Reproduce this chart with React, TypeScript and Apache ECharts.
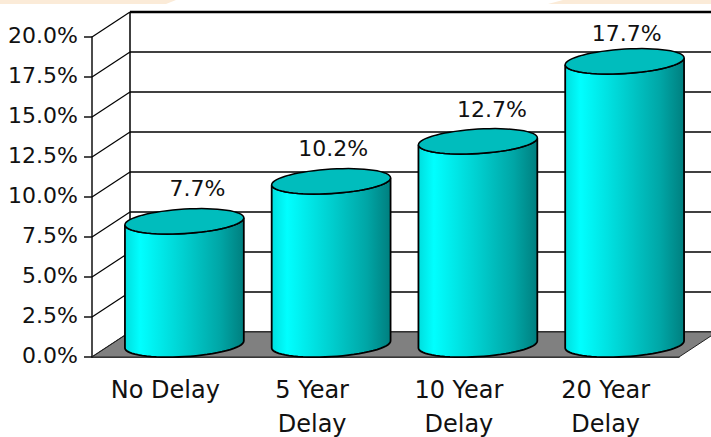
import React, { useEffect, useRef } from "react";
import * as echarts from "echarts";

const categories = ["No Delay", "5 Year\nDelay", "10 Year\nDelay", "20 Year\nDelay"];
const percentages = [7.7, 10.2, 12.7, 17.7];
const percentageLabels = ["7.7%", "10.2%", "12.7%", "17.7%"];
const gridTicks = [0, 2.5, 5, 7.5, 10, 12.5, 15, 17.5, 20];

// Projection of the 3D box: how far the back wall sits from the front plane.
const DEPTH_X = 38;
const DEPTH_Y = 25;
const FONT_FAMILY = '"DejaVu Sans"';
const FONT_SIZE = 22;
// Hand placement of the value captions relative to each cylinder's centre and rim.
const captionShiftX = [13, 2, 14, 2];
const captionLift = [33, 33, 32, 28];

const ellipsePoint = (cx: number, cy: number, a: number, t: number) => [
  cx + a * Math.cos(t),
  cy - 3.5 * Math.cos(t) + 12.2 * Math.sin(t),
];

// Half of the tilted rim; from the left corner round the front to the right corner.
const frontArc = (cx: number, cy: number, a: number) => {
  const pts: number[][] = [];
  for (let i = 0; i <= 32; i++) pts.push(ellipsePoint(cx, cy, a, Math.PI - (i / 32) * Math.PI));
  return pts;
};

const fullRim = (cx: number, cy: number, a: number) => {
  const pts: number[][] = [];
  for (let i = 0; i < 64; i++) pts.push(ellipsePoint(cx, cy, a, (i / 64) * 2 * Math.PI));
  return pts;
};

const renderWalls = (params: any, api: any) => {
  const rect = params.coordSys;
  const [, y] = api.coord([0, api.value(1)]);
  const isTop = api.value(1) === gridTicks[gridTicks.length - 1];
  const line = { stroke: "#000", lineWidth: isTop ? 2.5 : 1.5 };
  const children: any[] = [
    {
      type: "line",
      shape: { x1: rect.x, y1: y, x2: rect.x + DEPTH_X, y2: y - DEPTH_Y },
      style: { stroke: "#000", lineWidth: 1.2 },
    },
    {
      type: "line",
      shape: {
        x1: rect.x + DEPTH_X,
        y1: y - DEPTH_Y,
        x2: rect.x + rect.width + DEPTH_X,
        y2: y - DEPTH_Y,
      },
      style: line,
    },
  ];
  if (isTop) {
    children.push({
      type: "line",
      shape: {
        x1: rect.x + DEPTH_X,
        y1: y - DEPTH_Y,
        x2: rect.x + DEPTH_X,
        y2: rect.y + rect.height - DEPTH_Y,
      },
      style: { stroke: "#000", lineWidth: 1.5 },
    });
  }
  return { type: "group", children };
};

const renderFloor = (params: any, api: any) => {
  const rect = params.coordSys;
  const y = api.coord([0, api.value(1)])[1];
  return {
    type: "polygon",
    shape: {
      points: [
        [rect.x, y],
        [rect.x + rect.width, y],
        [rect.x + rect.width + DEPTH_X, y - DEPTH_Y],
        [rect.x + DEPTH_X, y - DEPTH_Y],
      ],
    },
    style: { fill: "#808080", stroke: "#222", lineWidth: 1 },
  };
};

const renderCylinder = (params: any, api: any) => {
  const index = api.value(0);
  const [cx0, top0] = api.coord([index, api.value(1)]);
  const [, base0] = api.coord([index, 0]);
  const a = api.size([1, 0])[0] * 0.405;
  const cx = cx0 + DEPTH_X / 2;
  const top = top0 - DEPTH_Y / 2;
  const base = base0 - DEPTH_Y / 2;
  const lower = frontArc(cx, base, a);
  const upper = frontArc(cx, top, a).reverse();
  return {
    type: "group",
    children: [
      {
        type: "polygon",
        shape: { points: [...lower, ...upper] },
        style: {
          fill: new echarts.graphic.LinearGradient(0, 0, 1, 0, [
            { offset: 0, color: "#00dede" },
            { offset: 0.13, color: "#00ffff" },
            { offset: 0.5, color: "#00cfcf" },
            { offset: 0.8, color: "#00a6a6" },
            { offset: 1, color: "#007f7f" },
          ]),
          stroke: "#000",
          lineWidth: 1.8,
        },
      },
      {
        type: "polygon",
        shape: { points: fullRim(cx, top, a) },
        style: { fill: "#00bdbd", stroke: "#000", lineWidth: 1.5 },
      },
      {
        type: "text",
        style: {
          text: percentageLabels[index],
          x: cx + captionShiftX[index],
          y: top - captionLift[index],
          fontFamily: FONT_FAMILY,
          fontSize: FONT_SIZE,
          fill: "#111",
          align: "center",
          verticalAlign: "middle",
        },
      },
    ],
  };
};

export default function App() {
  const ref = useRef<HTMLDivElement>(null);

  useEffect(() => {
    const chart = echarts.init(ref.current!, undefined, { renderer: "svg" });
    chart.setOption({
      animation: false,
      backgroundColor: "#fff",
      graphic: [
        // Peach strips running along the top edge of the slide
        {
          type: "polygon",
          silent: true,
          shape: { points: [[0, 0], [176, 0], [166, 4], [0, 4]] },
          style: { fill: "#fbebd8" },
        },
        {
          type: "polygon",
          silent: true,
          shape: { points: [[563, 0], [711, 0], [711, 4], [548, 4]] },
          style: { fill: "#fbebd8" },
        },
      ],
      grid: { left: 92, right: 32, top: 37, bottom: 80, outerBoundsMode: "none" },
      xAxis: {
        type: "category",
        data: categories,
        axisLine: { lineStyle: { color: "#111", width: 1.5 } },
        axisTick: { length: 7, alignWithLabel: false, lineStyle: { color: "#111", width: 1.5 } },
        axisLabel: {
          interval: 0,
          fontFamily: FONT_FAMILY,
          fontSize: 24,
          color: "#111",
          lineHeight: 34,
          margin: 16,
          hideOverlap: false,
        },
      },
      yAxis: {
        type: "value",
        min: 0,
        max: 20,
        interval: 2.5,
        splitLine: { show: false },
        axisLine: { show: true, lineStyle: { color: "#111", width: 1.5 } },
        axisTick: { show: true, length: 8, lineStyle: { color: "#111", width: 1.5 } },
        axisLabel: {
          fontFamily: FONT_FAMILY,
          fontSize: FONT_SIZE,
          color: "#111",
          margin: 14,
          verticalAlign: "bottom",
          lineHeight: 4,
          formatter: (v: number) => `${v.toFixed(1)}%`,
        },
      },
      series: [
        {
          type: "custom",
          clip: false,
          z: 1,
          silent: true,
          renderItem: renderWalls,
          data: gridTicks.map((t) => [0, t]),
        },
        {
          type: "custom",
          clip: false,
          z: 2,
          silent: true,
          renderItem: renderFloor,
          data: [[0, 0]],
        },
        {
          type: "custom",
          clip: false,
          z: 3,
          silent: true,
          renderItem: renderCylinder,
          data: percentages.map((p, i) => [i, p]),
        },
      ],
    });
    return () => chart.dispose();
  }, []);

  return (
    <div
      ref={ref}
      style={{ position: "fixed", left: 0, top: 0, width: 711, height: 437 }}
    />
  );
}
